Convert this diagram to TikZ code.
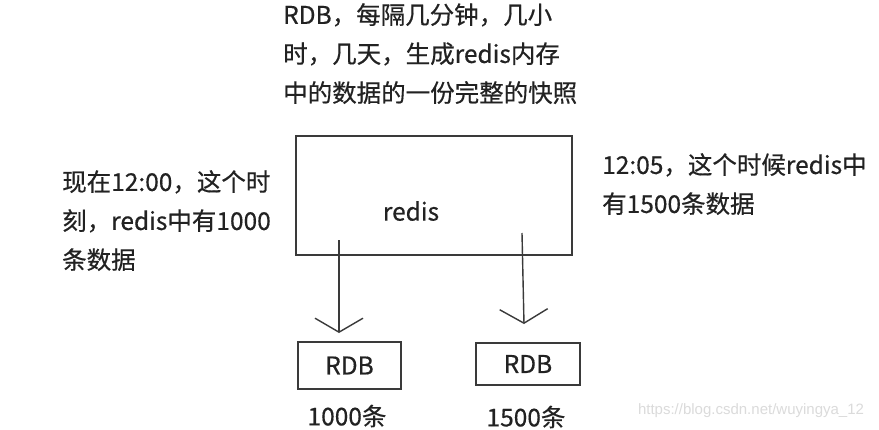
\documentclass[tikz,border=0pt]{standalone}
\usepackage{fontspec}
\newfontfamily\cjk[FakeBold=0.5]{Noto Sans CJK SC}
\setmainfont{Liberation Sans}
\usetikzlibrary{arrows.meta}
\definecolor{ink}{HTML}{222222}
\definecolor{ln}{HTML}{3A3A3A}
\tikzset{
  box/.style={draw=ln, line width=1.4pt, inner sep=0pt},
  lbl/.style={text=ink, font=\cjk\fontsize{24.5}{39}\selectfont, align=left, inner sep=0pt, anchor=north west},
  word/.style={text=ink, font=\cjk\fontsize{24.5}{28}\selectfont},
  conn/.style={draw=ln, line width=1.4pt, -{Straight Barb[length=14pt,width=48pt,line width=1.4pt]}},
}
\begin{document}
\begin{tikzpicture}[x=1pt,y=-1pt]
\useasboundingbox[fill=white] (0,0) rectangle (879,429);
\node[box, minimum width=276pt, minimum height=119pt] (redis) at (434,195.5) {};
\node[word] (redislbl) at (411,211) {redis};
\node[box, minimum width=103pt, minimum height=47pt, word] (rdb1) at (349.5,365.5) {RDB};
\node[box, minimum width=104pt, minimum height=42pt, word] (rdb2) at (528,364) {RDB};
\coordinate (s1) at (339,240);
\coordinate (e1) at (339,333);
\coordinate (s2) at (522,233);
\coordinate (e2) at (524,324);
\draw[conn] (s1) -- (e1);
\draw[conn] (s2) -- (e2);
\node[lbl] (top) at (283,3) {RDB，每隔几分钟，几小\\时，几天，生成redis内存\\中的数据的一份完整的快照};
\node[lbl] (left) at (62,170) {现在12:00，这个时\\刻，redis中有1000\\条数据};
\node[lbl] (right) at (602,153) {12:05，这个时候redis中\\有1500条数据};
\node[word] (c1) at (347,416) {1000条};
\node[word] (c2) at (526,417) {1500条};
\node[text=black!14, font=\fontsize{15}{18}\selectfont] (wm) at (751,411) {https://blog.csdn.net/wuyingya\_12};
\end{tikzpicture}
\end{document}
